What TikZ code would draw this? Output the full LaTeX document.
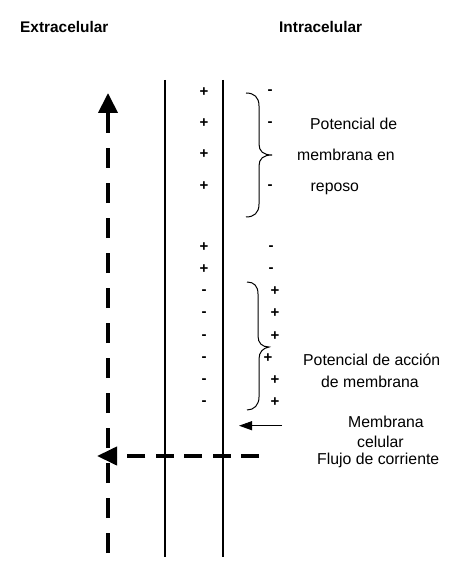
\documentclass[tikz,border=0pt]{standalone}
\usepackage{fontspec}
\setmainfont{Liberation Sans}
\usetikzlibrary{arrows.meta}
\begin{document}
\begin{tikzpicture}[x=1pt,y=-1pt,
  lbl/.style={font=\fontsize{15.8}{18}\selectfont, inner sep=0pt, anchor=base west},
  hdr/.style={font=\bfseries\fontsize{15.4}{18}\selectfont, inner sep=0pt, anchor=base west},
  sgn/.style={font=\bfseries\fontsize{15}{15}\selectfont, inner sep=0pt, anchor=base},
  memb/.style={line width=2pt},
  brc/.style={line width=1pt},
  flow/.style={line width=4pt}]
\useasboundingbox (0,0) rectangle (461,569);

% headers
\node[hdr] (ext) at (20,32.3) {Extracelular};
\node[hdr] (int) at (279,32.3) {Intracelular};

% membrane
\coordinate (m1t) at (164.5,80); \coordinate (m1b) at (164.5,557);
\coordinate (m2t) at (223,80);   \coordinate (m2b) at (223,557);
\draw[memb] (m1t) -- (m1b);
\draw[memb] (m2t) -- (m2b);

% upper signs
\foreach \y [count=\i] in {91.5,122.7,153.5,186} \node[sgn] (up\i) at (204,\y+4.8) {+};
\foreach \y [count=\i] in {91,122.7,186} \node[sgn] (um\i) at (270,\y+3.8) {-};

% lower left column
\foreach \y [count=\i] in {247,269} \node[sgn] (lp\i) at (204,\y+4.8) {+};
\foreach \y [count=\i] in {291,312.5,336,358,380,402} \node[sgn] (lm\i) at (204,\y+3.8) {-};

% lower right column
\foreach \y [count=\i] in {247,269} \node[sgn] (rm\i) at (271,\y+3.8) {-};
\foreach \x/\y [count=\i] in {275/291,275/312.5,275/336,268/358,275/380,275/402} \node[sgn] (rp\i) at (\x,\y+4.8) {+};

% upper brace
\draw[brc] (246,93) .. controls (254,93) and (259,97) .. (259,106) -- (259,144)
  .. controls (259,151) and (263,155) .. (272,155)
  .. controls (263,155) and (259,159) .. (259,166) -- (259,204)
  .. controls (259,213) and (254,217) .. (246,217);

% lower brace
\draw[brc] (247,282) .. controls (254,282) and (258,286) .. (258,294) -- (258,336)
  .. controls (258,343) and (262,347) .. (269,347)
  .. controls (263,348) and (259,352) .. (259,359) -- (259,397)
  .. controls (259,405) and (254,410) .. (247,410);

% labels
\node[lbl] (rest1) at (310,130) {Potencial de};
\node[lbl] (rest2) at (297,161) {membrana en};
\node[lbl] (rest3) at (310.5,192) {reposo};
\node[lbl] (act1) at (303,365) {Potencial de acción};
\node[lbl] (act2) at (321,387) {de membrana};
\node[lbl] (mc1) at (348,427) {Membrana};
\node[lbl] (mc2) at (357,447) {celular};
\node[lbl] (flj) at (317,464) {Flujo de corriente};

% arrows
\coordinate (vbot) at (108,553); \coordinate (vtop) at (108,93);
\draw[flow, dash pattern=on 20pt off 15pt, -{Triangle[length=20pt,width=19pt]}] (vbot) -- (vtop);
\coordinate (hstart) at (259,456); \coordinate (htip) at (97,456);
\draw[flow, dash pattern=on 18pt off 10.4pt, -{Triangle[length=20pt,width=18pt]}] (hstart) -- (htip);
\coordinate (mstart) at (282,425.7); \coordinate (mtip) at (239,425.7);
\draw[line width=1pt, -{Triangle[length=13pt,width=9pt]}] (mstart) -- (mtip);
\end{tikzpicture}
\end{document}
